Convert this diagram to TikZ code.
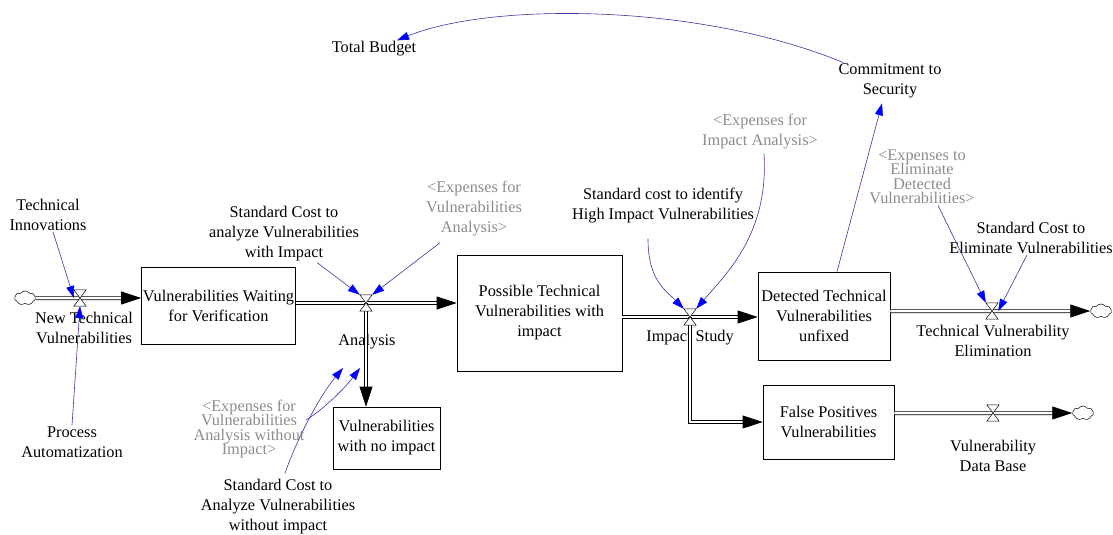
\documentclass[tikz,border=0pt]{standalone}
\usepackage{fontspec}
\setmainfont{Liberation Serif}
\usetikzlibrary{arrows.meta, shapes.symbols}
\definecolor{VSlink}{RGB}{55, 55, 165}
\definecolor{VStip}{RGB}{0, 0, 255}
\definecolor{VSshadow}{RGB}{140, 140, 140}
\tikzset{
  stock/.style={rectangle, draw=black, line width=0.7pt, fill=white, align=center, inner sep=1pt},
  aux/.style={align=center, inner sep=1pt},
  shadow/.style={aux, text=VSshadow},
  tight/.style={font={\fontsize{16.3}{14.5}\selectfont\lineskiplimit=-20pt}},
  valve/.style={rectangle, minimum width=12pt, minimum height=16pt, inner sep=0pt},
  valvebody/.style={draw=black, line width=0.5pt, fill=white},
  vscloud/.style={cloud, cloud puffs=7, cloud puff arc=110, draw=black, line width=0.5pt,
    minimum width=21pt, minimum height=14pt, inner sep=0pt},
  pipe/.style={double=white, double distance=2.6pt, line width=0.7pt, -{Triangle[length=20pt,width=13pt]}},
  link/.style={VSlink, line width=0.6pt, -{Triangle[length=12pt,width=8pt,color=VStip]}},
}
\begin{document}
\begin{tikzpicture}[x=1pt, y=-1pt, every node/.style={font=\fontsize{16.3}{20}\selectfont}]
  \useasboundingbox (0,0) rectangle (1113,535);
  % stocks
  \node[stock, minimum width=154pt, minimum height=77pt] (waiting) at (218.5,306) {Vulnerabilities Waiting\\for Verification};
  \node[stock, minimum width=165pt, minimum height=116pt] (possible) at (539.5,313) {Possible Technical\\Vulnerabilities with\\impact};
  \node[stock, minimum width=107pt, minimum height=62pt] (noimpact) at (386.5,438) {Vulnerabilities\\with no impact};
  \node[stock, minimum width=132pt, minimum height=88pt] (detected) at (824,316) {Detected Technical\\Vulnerabilities\\unfixed};
  \node[stock, minimum width=131pt, minimum height=74pt] (falsepos) at (828.5,422) {False Positives\\Vulnerabilities};
  % valves and clouds
  \node[valve] (vNew) at (80,298) {};
  \node[valve] (vAnalysis) at (366,303) {};
  \node[valve] (vImpact) at (690,317) {};
  \node[valve] (vElim) at (992,311) {};
  \node[valve] (vDB) at (993,413) {};
  \node[vscloud] (cSrc) at (25,298) {};
  \node[vscloud] (cElim) at (1101,311) {};
  \node[vscloud] (cDB) at (1083,413) {};
  % variables
  \node[aux] (innov) at (48,215) {Technical\\Innovations};
  \node[aux] (process) at (72,442) {Process\\Automatization};
  \node[aux] (newLbl) at (84,328) {New Technical\\Vulnerabilities};
  \node[aux] (costImp) at (284,234) {Standard Cost to\\analyze Vulnerabilities\\with Impact};
  \node[shadow] (expAna) at (474,209) {<Expenses for\\Vulnerabilities\\Analysis>};
  \node[aux] (anaLbl) at (367,342) {Analysis};
  \node[shadow, tight] (expNoImp) at (249,429) {<Expenses for\\Vulnerabilities\\Analysis without\\Impact>};
  \node[aux] (costNo) at (278,507) {Standard Cost to\\Analyze Vulnerabilities\\without impact};
  \node[aux] (costHigh) at (663,206) {Standard cost to identify\\High Impact Vulnerabilities};
  \node[shadow] (expImp) at (760,132) {<Expenses for\\Impact Analysis>};
  \node[aux] (impLbl) at (690,338) {Impact Study};
  \node[aux] (commit) at (890,81) {Commitment to\\Security};
  \node[aux] (budget) at (374,49) {Total Budget};
  \node[shadow, tight] (expElim) at (922,177) {<Expenses to\\Eliminate\\Detected\\Vulnerabilities>};
  \node[aux] (costElim) at (1031,238) {Standard Cost to\\Eliminate Vulnerabilities};
  \node[aux] (elimLbl) at (993,341) {Technical Vulnerability\\Elimination};
  \node[aux] (dbLbl) at (993,456) {Vulnerability\\Data Base};
  \coordinate (tipNoA) at (343,368);
  \coordinate (tipNoB) at (360,368);
  % flows
  \draw[pipe] (cSrc.east) -- (cSrc -| waiting.west);
  \draw[pipe] (waiting.east |- vAnalysis) -- (vAnalysis -| possible.west);
  \draw[pipe] (vAnalysis.center) -- (vAnalysis |- noimpact.north);
  \draw[pipe] (possible.east |- vImpact) -- (vImpact -| detected.west);
  \draw[pipe] (vImpact.center) |- (falsepos.west);
  \draw[pipe] (detected.east |- vElim) -- (cElim.west);
  \draw[pipe] (falsepos.east |- vDB) -- (cDB.west);
  \foreach \v in {vNew, vAnalysis, vImpact, vElim, vDB}
    \draw[valvebody] (\v.north west) -- (\v.north east) -- (\v.south west) -- (\v.south east) -- cycle;
  % links
  \draw[link] ([xshift=5pt]innov.south) -- (vNew.west);
  \draw[link] (process.north) -- (vNew.south);
  \draw[link] ([xshift=33pt]costImp.south) -- (vAnalysis.north west);
  \draw[link] ([xshift=-34pt,yshift=-5pt]expAna.south) -- (vAnalysis.north east);
  \draw[link] ([xshift=7pt,yshift=5pt]costNo.north) .. controls +(10,-30) and +(-25,30) .. (tipNoA);
  \draw[link] ([yshift=9pt]expNoImp.east) .. controls +(15,-8) and +(-15,20) .. (tipNoB);
  \draw[link] ([xshift=-15pt,yshift=-14pt]costHigh.south) .. controls +(0,40) and +(-20,-20) .. (vImpact.north west);
  \draw[link] ([xshift=4pt,yshift=-3pt]expImp.south) .. controls +(5,80) and +(30,-35) .. (vImpact.north east);
  \draw[link] ([xshift=16pt]expElim.south) -- (vElim.north west);
  \draw[link] ([xshift=-4pt]costElim.south) -- (vElim.east);
  \draw[link] ([xshift=13pt]detected.north) -- ([xshift=-8pt,yshift=-4pt]commit.south);
  \draw[link] ([xshift=6pt]commit.north west) .. controls +(-145,-60) and +(93,-38) .. ([xshift=23pt]budget.north);
\end{tikzpicture}
\end{document}
